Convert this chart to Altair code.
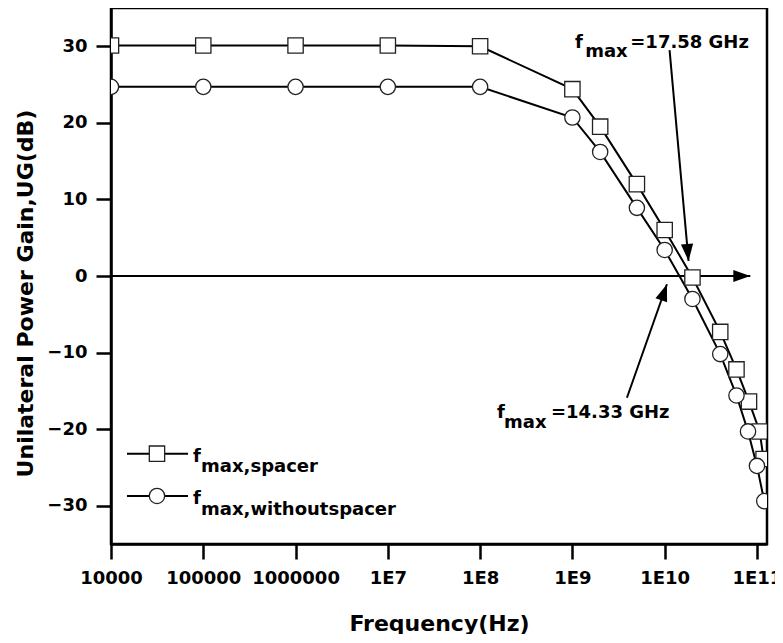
import altair as alt
import pandas as pd

# ---- data ----
freq_spacer = [1e4, 1e5, 1e6, 1e7, 1e8, 1e9, 2e9, 5e9, 1e10, 2e10, 4e10, 6e10, 8.2e10, 1.07e11, 1.18e11]
ug_spacer = [30.1, 30.1, 30.1, 30.1, 30.0, 24.4, 19.5, 12.0, 6.0, -0.2, -7.3, -12.2, -16.4, -20.3, -23.9]
freq_without = [1e4, 1e5, 1e6, 1e7, 1e8, 1e9, 2e9, 5e9, 1e10, 2e10, 4e10, 6e10, 8e10, 1e11, 1.2e11]
ug_without = [24.7, 24.7, 24.7, 24.7, 24.7, 20.7, 16.2, 8.9, 3.4, -3.0, -10.2, -15.6, -20.3, -24.8, -29.4]
series_names = ["spacer", "without"]

x_tick_values = [1e4, 1e5, 1e6, 1e7, 1e8, 1e9, 1e10, 1e11]
x_tick_labels = ["10000", "100000", "1000000", "1E7", "1E8", "1E9", "1E10", "1E11"]
y_tick_values = [-30, -20, -10, 0, 10, 20, 30]

# annotation text pieces (data coordinates)
anno_text = ["f", "max", "=17.58 GHz", "f", "max", "=14.33 GHz",
             "f", "max,spacer", "f", "max,withoutspacer"]
anno_x = [1.07e9, 1.377e9, 4.24e9, 1.52e8, 1.82e8, 5.85e8, 7.74e4, 9.47e4, 7.74e4, 9.47e4]
anno_y = [29.84, 28.6, 29.84, -18.58, -19.81, -18.58, -24.25, -25.62, -29.78, -31.15]

# arrows (tail -> tip)
arrow_x = [1e4, 1.13e10, 3.9e9]
arrow_y = [0, 29.5, -15.9]
arrow_x2 = [8.47e10, 1.815e10, 1.058e10]
arrow_y2 = [0, 1.96, -1.08]
arrow_angle = [90, 174.85, 19.4]

# legend sample positions
legend_x1 = 1.49e4
legend_x2 = 6.84e4
legend_xm = 3.15e4
legend_y = [-23.2, -28.73]

# ---- tables ----
df = pd.concat([
    pd.DataFrame({"freq": freq_spacer, "ug": ug_spacer, "series": series_names[0]}),
    pd.DataFrame({"freq": freq_without, "ug": ug_without, "series": series_names[1]}),
])
anno = pd.DataFrame({"x": anno_x, "y": anno_y, "text": anno_text})
arrows = pd.DataFrame({"x": arrow_x, "y": arrow_y, "x2": arrow_x2, "y2": arrow_y2, "angle": arrow_angle})
leg = pd.DataFrame({"x1": [legend_x1] * 2, "x2": [legend_x2] * 2, "xm": [legend_xm] * 2,
                    "y": legend_y, "series": series_names})

FONT = "DejaVu Sans"
label_list = "[" + ",".join("'" + s + "'" for s in x_tick_labels) + "]"

xscale = alt.Scale(type="log", domain=[1e4, 1.285e11], nice=False)
yscale = alt.Scale(domain=[-35, 35], nice=False)
shape_scale = alt.Scale(domain=series_names, range=["square", "circle"])

xaxis = alt.Axis(values=x_tick_values, labelExpr=label_list + "[round(log(datum.value)/LN10)-4]",
                 title="Frequency(Hz)", labelFlush=False, labelOverlap=False, labelBound=False,
                 titleY=86, titleBaseline="alphabetic", labelPadding=10)
yaxis = alt.Axis(values=y_tick_values, title="Unilateral Power Gain,UG(dB)", labelFlush=False,
                 titleX=-86, titleY=285, titleBaseline="middle", titleAngle=-90, labelPadding=9)

base_x = alt.X("freq:Q", scale=xscale, axis=xaxis)
base_y = alt.Y("ug:Q", scale=yscale, axis=yaxis)

lines = alt.Chart(df).mark_line(color="black", strokeWidth=2, clip=True).encode(
    x=base_x, y=base_y, detail="series:N")
points = alt.Chart(df).mark_point(filled=True, fill="white", stroke="#222", strokeWidth=1.3,
                                  opacity=1, size=235, clip=True).encode(
    x="freq:Q", y="ug:Q", shape=alt.Shape("series:N", scale=shape_scale, legend=None))

arrow_lines = alt.Chart(arrows).mark_rule(color="black", strokeWidth=2).encode(
    x="x:Q", y="y:Q", x2="x2:Q", y2="y2:Q")
arrow_heads = alt.Chart(arrows).mark_point(shape="M0,0L-0.36,1L0.36,1Z", filled=True, color="black",
                                           opacity=1, size=1156).encode(
    x="x2:Q", y="y2:Q", angle=alt.Angle("angle:Q", scale=None))

texts = alt.Chart(anno).mark_text(font=FONT, fontWeight="bold", fontSize=18, align="left",
                                  baseline="alphabetic", color="black").encode(
    x="x:Q", y="y:Q", text="text:N")

leg_lines = alt.Chart(leg).mark_rule(color="black", strokeWidth=2).encode(
    x="x1:Q", x2="x2:Q", y="y:Q")
leg_points = alt.Chart(leg).mark_point(filled=True, fill="white", stroke="#222", strokeWidth=1.3,
                                       opacity=1, size=235).encode(
    x="xm:Q", y="y:Q", shape=alt.Shape("series:N", scale=shape_scale, legend=None))

chart = alt.layer(lines, arrow_lines, arrow_heads, points, texts, leg_lines, leg_points).properties(
    width=656, height=536,
    autosize=alt.AutoSizeParams(type="none"),
    padding={"left": 103, "top": 0, "right": 8, "bottom": 90},
    background="white",
).configure_view(stroke="black", strokeWidth=2.5).configure_axis(
    grid=False, domainColor="black", domainWidth=2.5, tickColor="black", tickWidth=2.5,
    tickSize=15, labelFont=FONT, labelFontWeight="bold", labelFontSize=18, labelColor="black",
    titleFont=FONT, titleFontWeight="bold", titleFontSize=22, titleColor="black",
)

chart.save("out.html", embed_options={"renderer": "svg", "actions": False})
